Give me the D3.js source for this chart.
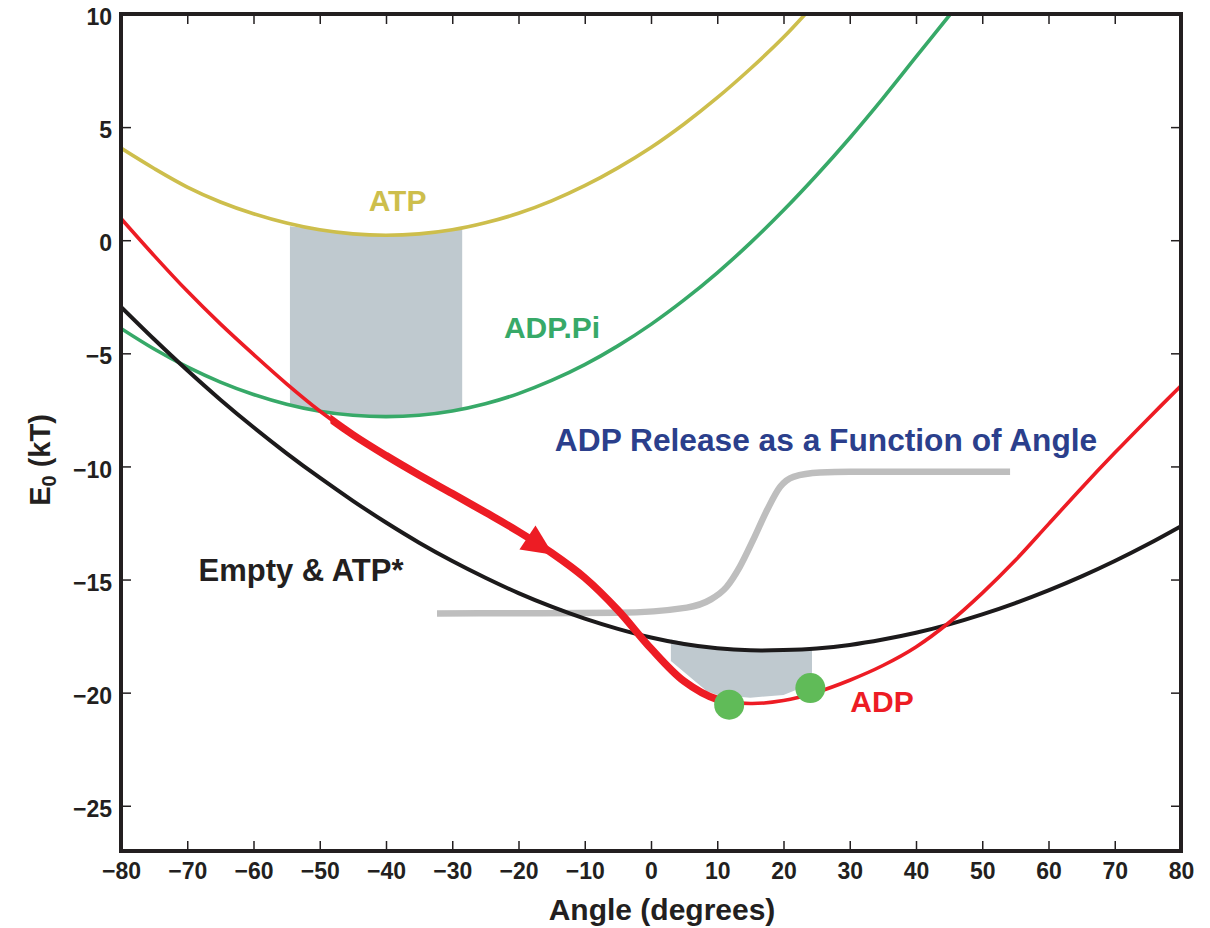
<!DOCTYPE html>
<html>
<head>
<meta charset="utf-8">
<script src="https://cdn.jsdelivr.net/npm/d3@7"></script>
<style>
  html, body { margin: 0; padding: 0; background: #ffffff; }
  svg { display: block; }
  text { font-family: "Liberation Sans", Arial, Helvetica, sans-serif; font-weight: bold; }
</style>
</head>
<body>
<svg id="chart" width="1210" height="928"></svg>
<script>
// Energy profiles E0 (kT) versus rotor angle (degrees)
const angleTicks  = [-80, -70, -60, -50, -40, -30, -20, -10, 0, 10, 20, 30, 40, 50, 60, 70, 80];
const energyTicks = [-25, -20, -15, -10, -5, 0, 5, 10];

const atpCurve = [
  [-80, 4.07], [-75, 3.17], [-70, 2.35], [-65, 1.69], [-60, 1.17], [-55, 0.76], [-50, 0.46],
  [-45, 0.28], [-40, 0.22], [-35, 0.28], [-30, 0.46], [-25, 0.77], [-20, 1.19], [-15, 1.74],
  [-10, 2.41], [-5, 3.2], [0, 4.1], [5, 5.14], [10, 6.3], [15, 7.58], [20, 8.97], [23.3, 10]
];
const adpPiCurve = [
  [-80, -3.9], [-75, -4.81], [-70, -5.6], [-65, -6.27], [-60, -6.82], [-55, -7.25], [-50, -7.56],
  [-45, -7.74], [-40, -7.8], [-35, -7.74], [-30, -7.55], [-25, -7.23], [-20, -6.78], [-15, -6.2],
  [-10, -5.5], [-5, -4.67], [0, -3.72], [5, -2.64], [10, -1.44], [15, -0.12], [20, 1.32],
  [25, 2.87], [30, 4.52], [35, 6.27], [40, 8.1], [45.2, 10]
];
const emptyCurve = [
  [-80, -2.95], [-75, -4.38], [-70, -5.75], [-65, -7.05], [-60, -8.27], [-55, -9.42], [-50, -10.5],
  [-45, -11.52], [-40, -12.48], [-35, -13.37], [-30, -14.18], [-25, -14.92], [-20, -15.6], [-15, -16.2],
  [-10, -16.73], [-5, -17.18], [0, -17.56], [5, -17.85], [10, -18.04], [15, -18.13], [20, -18.12],
  [25, -18.05], [30, -17.89], [35, -17.65], [40, -17.35], [45, -16.98], [50, -16.54], [55, -16.04],
  [60, -15.48], [65, -14.86], [70, -14.18], [75, -13.44], [80, -12.64]
];
const adpCurve = [
  [-80, 0.96], [-75, -0.68], [-70, -2.25], [-65, -3.7], [-60, -5.05], [-55, -6.35], [-50, -7.55],
  [-45, -8.6], [-40, -9.52], [-35, -10.38], [-30, -11.2], [-25, -12.03], [-20, -12.88], [-15, -13.82],
  [-10, -14.92], [-5, -16.35], [0, -18.05], [5, -19.5], [10, -20.3], [15, -20.48], [20, -20.35],
  [25, -19.98], [30, -19.45], [35, -18.8], [40, -17.98], [45, -16.9], [50, -15.6], [55, -14.15],
  [60, -12.55], [65, -10.95], [70, -9.4], [75, -7.9], [80, -6.43]
];
// ADP release probability trace (drawn on the energy axis)
const releaseCurve = [
  [-32.3, -16.5], [-20, -16.49], [-5, -16.47], [5.4, -16.24], [8.9, -15.9], [11.4, -15.33],
  [13.4, -14.44], [15.4, -13.26], [17.5, -11.94], [19.5, -10.9], [21.5, -10.46], [25.5, -10.27],
  [30, -10.24], [54.2, -10.24]
];
// Shaded transition windows
const bandAngle  = [-54.5, -50, -45, -40, -35, -28.5];
const bandTop    = [0.62, 0.46, 0.28, 0.22, 0.28, 0.5];
const bandBottom = [-7.24, -7.56, -7.74, -7.8, -7.74, -7.5];
const releaseWindow = [
  [3.0, -17.65], [8, -17.95], [12, -18.07], [16, -18.13], [20, -18.12], [24.3, -18.06],
  [24.3, -19.6], [20, -20.1], [15, -20.22], [10, -20.1], [8.4, -19.93], [3.0, -18.6]
];
// Bound states on the ADP curve
const adpStates = [[11.8, -20.53], [24.05, -19.8]];
// Highlighted path along the ADP curve and its arrow
const pathRange = [-48.4, 12];
const arrowTip = [-14.75, -13.9];
const arrowBack = [-18.5, -13.17];

const labels = [
  { text: "ATP", at: [-38.26, 1.28], color: "#cdbe4c", size: 30 },
  { text: "ADP.Pi", at: [-14.94, -4.33], color: "#37a968", size: 30 },
  { text: "ADP Release as a Function of Angle", at: [26.42, -9.33], color: "#2b3f8c", size: 31.7 },
  { text: "Empty & ATP*", at: [-52.83, -15.07], color: "#231f20", size: 31 },
  { text: "ADP", at: [34.87, -20.84], color: "#ed1c24", size: 30 }
];

const svg = d3.select("#chart");
const x = d3.scaleLinear().domain([-80, 80]).range([121, 1181]);
const y = d3.scaleLinear().domain([-27, 10]).range([851, 14]);

const defs = svg.append("defs");
defs.append("clipPath").attr("id", "plotClip")
  .append("rect").attr("x", x(-80)).attr("y", y(10))
  .attr("width", x(80) - x(-80)).attr("height", y(-27) - y(10));
defs.append("clipPath").attr("id", "pathClip")
  .append("rect").attr("x", x(pathRange[0])).attr("y", y(10))
  .attr("width", x(pathRange[1]) - x(pathRange[0])).attr("height", y(-27) - y(10));

const line = d3.line().x(d => x(d[0])).y(d => y(d[1])).curve(d3.curveCatmullRom.alpha(0.5));
const plot = svg.append("g").attr("clip-path", "url(#plotClip)");

// shaded regions
const bandData = bandAngle.map((a, i) => [a, bandTop[i], bandBottom[i]]);
plot.append("path")
  .datum(bandData)
  .attr("fill", "#bfc9cf")
  .attr("d", d3.area().x(d => x(d[0])).y0(d => y(d[2])).y1(d => y(d[1])).curve(d3.curveMonotoneX));
plot.append("path")
  .datum(releaseWindow)
  .attr("fill", "#bfc9cf")
  .attr("d", d3.line().x(d => x(d[0])).y(d => y(d[1])).curve(d3.curveLinearClosed));

// energy curves
plot.append("path").datum(atpCurve).attr("fill", "none").attr("stroke", "#cdbe4c")
  .attr("stroke-width", 3.6).attr("d", line);
plot.append("path").datum(adpPiCurve).attr("fill", "none").attr("stroke", "#37a968")
  .attr("stroke-width", 3.6).attr("d", line);
plot.append("path").datum(releaseCurve).attr("fill", "none").attr("stroke", "#bebebe")
  .attr("stroke-width", 6.5).attr("d", d3.line().x(d => x(d[0])).y(d => y(d[1])).curve(d3.curveMonotoneX));
plot.append("path").datum(emptyCurve).attr("fill", "none").attr("stroke", "#1c1a1b")
  .attr("stroke-width", 4).attr("d", line);
plot.append("path").datum(adpCurve).attr("fill", "none").attr("stroke", "#ed1c24")
  .attr("stroke-width", 3.6).attr("d", line);
plot.append("path").datum(adpCurve).attr("fill", "none").attr("stroke", "#ed1c24")
  .attr("stroke-width", 7.5).attr("clip-path", "url(#pathClip)").attr("d", line);

// arrow head on the highlighted path
{
  const tx = x(arrowTip[0]), ty = y(arrowTip[1]);
  const bx = x(arrowBack[0]), by = y(arrowBack[1]);
  const len = Math.hypot(tx - bx, ty - by);
  const ux = (tx - bx) / len, uy = (ty - by) / len;
  const px = -uy, py = ux;
  const L = 31, W = 14.5;
  const pts = [[tx, ty], [tx - L * ux + W * px, ty - L * uy + W * py], [tx - L * ux - W * px, ty - L * uy - W * py]];
  svg.append("path").attr("fill", "#ed1c24")
    .attr("d", "M" + pts.map(p => p.join(",")).join("L") + "Z");
}

// bound states
svg.selectAll("circle.state").data(adpStates).join("circle")
  .attr("class", "state")
  .attr("cx", d => x(d[0])).attr("cy", d => y(d[1])).attr("r", 15)
  .attr("fill", "#60bb58");

// labels
svg.selectAll("text.label").data(labels).join("text")
  .attr("class", "label")
  .attr("x", d => x(d.at[0])).attr("y", d => y(d.at[1]))
  .attr("text-anchor", "middle")
  .attr("font-size", d => d.size)
  .attr("fill", d => d.color)
  .text(d => d.text);

// axes: ticks point inward on all four sides
const axisColor = "#231f20";
const gx = svg.append("g").attr("transform", `translate(0,${y(-27)})`)
  .call(d3.axisBottom(x).tickValues(angleTicks).tickSize(-10).tickPadding(12).tickFormat(d3.format("d")));
const gxTop = svg.append("g").attr("transform", `translate(0,${y(10)})`)
  .call(d3.axisTop(x).tickValues(angleTicks).tickSize(-10).tickFormat(""));
const gy = svg.append("g").attr("transform", `translate(${x(-80)},0)`)
  .call(d3.axisLeft(y).tickValues(energyTicks).tickSize(-10).tickPadding(9).tickFormat(d3.format("d")));
const gyRight = svg.append("g").attr("transform", `translate(${x(80)},0)`)
  .call(d3.axisRight(y).tickValues(energyTicks).tickSize(-10).tickFormat(""));

[gx, gxTop, gy, gyRight].forEach(g => {
  g.select(".domain").remove();
  g.selectAll(".tick line").attr("stroke", axisColor).attr("stroke-width", 1.5);
  g.selectAll(".tick text").attr("fill", axisColor).attr("font-size", 23)
    .attr("font-family", "'Liberation Sans', Arial, Helvetica, sans-serif").attr("font-weight", "bold");
});
gx.selectAll(".tick text").attr("dy", "0.71em");
gy.selectAll(".tick text").attr("dy", "0.46em");

// frame
svg.append("rect")
  .attr("x", x(-80)).attr("y", y(10))
  .attr("width", x(80) - x(-80)).attr("height", y(-27) - y(10))
  .attr("fill", "none").attr("stroke", axisColor).attr("stroke-width", 4);

// axis titles
svg.append("text")
  .attr("x", 662).attr("y", 920)
  .attr("text-anchor", "middle").attr("font-size", 30).attr("fill", axisColor)
  .text("Angle (degrees)");

const yTitle = svg.append("text")
  .attr("transform", "translate(50,460) rotate(-90)")
  .attr("text-anchor", "middle").attr("font-size", 29).attr("fill", axisColor);
yTitle.append("tspan").text("E");
yTitle.append("tspan").attr("font-size", 20).attr("dy", 6).text("0");
yTitle.append("tspan").attr("dy", -6).text(" (kT)");
</script>
</body>
</html>
